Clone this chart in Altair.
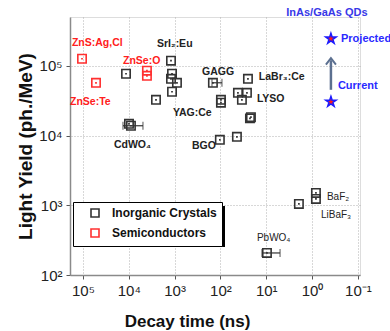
import altair as alt
import pandas as pd

# ---------------- data ----------------
crys_x = [11500, 8980, 9910, 2550, 1200, 1140, 1200, 889, 1140, 146, 97.5, 97.5,
          25.1, 41.5, 26.4, 34, 22.7, 21.6, 103, 43.7, 1.94, 0.824, 0.824, 9.66]
crys_y = [76800, 13800, 14700, 32500, 118000, 76800, 65000, 57000, 42400, 57000, 29500, 32500,
          65000, 40900, 40900, 32500, 17600, 18300, 8670, 9580, 1045, 1500, 1230, 207]
semi_x = [105000, 52000, 4020, 4020]
semi_y = [126000, 57000, 85000, 71800]

err_lo = [13400, 153, 12.4]
err_hi = [4910, 92.7, 5.0]
err_y = [13800, 57000, 207]

qd_x = [0.388, 0.388]
qd_y = [30400, 244000]
qd_lab = ["Current", "Projected"]

arrow_x = [0.388]
arrow_y0 = [45200]
arrow_y1 = [120000]

red_labels = ["ZnS:Ag,Cl", "ZnSe:Te", "ZnSe:O"]
red_lx = [174000, 192000, 13400]
red_ly = [214000, 30400, 118000]

blk_labels = ["SrI₂:Eu", "CdWO₄", "YAG:Ce", "GAGG", "LaBr₃:Ce", "LYSO", "BGO"]
blk_lx = [2430, 21100, 1090, 253, 14.5, 16, 420]
blk_ly = [207000, 7350, 21100, 82000, 69500, 33600, 7110]

small_labels = ["BaF₂", "LiBaF₃", "PbWO₄"]
small_lx = [0.474, 0.641, 16]
small_ly = [1320, 726, 340]

blue_labels = ["Projected", "Current"]
blue_lx = [0.234, 0.273]
blue_ly = [244000, 51600]
head_label = ["InAs/GaAs QDs"]
head_x = [0.474]
head_y = [575000]

x_ticks = [1e5, 1e4, 1e3, 1e2, 1e1, 1e0, 1e-1]
y_ticks = [1e2, 1e3, 1e4, 1e5]
groups = ["Inorganic Crystals", "Semiconductors"]
group_colors = ["#333333", "#ff3030"]

# ---------------- tables ----------------
pts = pd.DataFrame({
    "x": crys_x + semi_x,
    "y": crys_y + semi_y,
    "g": [groups[0]] * len(crys_x) + [groups[1]] * len(semi_x),
    "c": [group_colors[0]] * len(crys_x) + [group_colors[1]] * len(semi_x),
})
err = pd.DataFrame({"lo": err_lo, "hi": err_hi, "y": err_y})
err_ends = pd.DataFrame({"x": err_lo + err_hi, "y": err_y + err_y})
qd = pd.DataFrame({"x": qd_x, "y": qd_y, "lab": qd_lab})
arrow = pd.DataFrame({"x": arrow_x, "y0": arrow_y0, "y1": arrow_y1})
red_df = pd.DataFrame({"x": red_lx, "y": red_ly, "t": red_labels})
blk_df = pd.DataFrame({"x": blk_lx, "y": blk_ly, "t": blk_labels})
sm_df = pd.DataFrame({"x": small_lx, "y": small_ly, "t": small_labels})
blue_df = pd.DataFrame({"x": blue_lx, "y": blue_ly, "t": blue_labels})
head_df = pd.DataFrame({"x": head_x, "y": head_y, "t": head_label})

FONT = "Liberation Sans"

sup = {5: "⁵", 4: "⁴", 3: "³", 2: "²", 1: "¹", 0: "⁰", -1: "⁻¹"}
e = "round(log(datum.value)/LN10)"
expr = "''"
for k, v in sup.items():
    expr = f"{e}=={k} ? '10{v}' : ({expr})"

xscale = alt.Scale(type="log", domain=[0.09, 192000], reverse=True, nice=False)
yscale = alt.Scale(type="log", domain=[100, 500000], nice=False)

xax = alt.Axis(values=x_ticks, labelExpr=expr, title="Decay time (ns)", grid=True,
               gridDash=[1, 2], gridColor="#b0b0b0", domainColor="#8a8a8a", domainWidth=1.5,
               tickColor="#555", tickSize=4, labelFontSize=15, labelFont=FONT,
               labelColor="#222", labelPadding=4, labelFlush=False, labelOverlap=False,
               titleFont=FONT, titleFontSize=17, titleFontWeight="bold", titleColor="#111",
               titleX=117, titleY=46, titleBaseline="middle")
yax = alt.Axis(values=y_ticks, labelExpr=expr, title="Light Yield (ph./MeV)", grid=True,
               gridDash=[1, 2], gridColor="#b0b0b0", domainColor="#8a8a8a", domainWidth=1.5,
               tickColor="#555", tickSize=4, labelFontSize=15, labelFont=FONT,
               labelColor="#222", labelPadding=4, labelFlush=False, labelOverlap=False,
               titleFont=FONT, titleFontSize=19, titleFontWeight="bold", titleColor="#111",
               titleX=-45, titleY=129, titleBaseline="middle", titleAngle=270)

X = alt.X("x:Q", scale=xscale, axis=xax)
Y = alt.Y("y:Q", scale=yscale, axis=yax)
color_scale = alt.Scale(domain=groups, range=group_colors)

squares = alt.Chart(pts).mark_point(shape="square", filled=False, size=70, strokeWidth=1.6,
                                    opacity=1).encode(
    x=X, y=Y,
    color=alt.Color("g:N", scale=color_scale,
                    legend=alt.Legend(title=None, orient="none", legendX=3, legendY=185,
                                      strokeColor="black", fillColor="white", padding=5,
                                      symbolType="square", symbolSize=64,
                                      symbolFillColor="white", symbolOffset=11,
                                      symbolStrokeWidth=1.6, labelFont=FONT,
                                      labelFontSize=12, labelFontWeight="bold",
                                      labelColor="#111", rowPadding=4, labelOffset=11)))
dots = alt.Chart(pts).mark_point(shape="square", filled=True, size=3, opacity=1).encode(
    x="x:Q", y="y:Q", color=alt.Color("c:N", scale=None))

shadow = alt.Chart(pts).mark_rect(color="black").encode(
    x=alt.value(6), x2=alt.value(155), y=alt.value(189), y2=alt.value(230))

err_rule = alt.Chart(err).mark_rule(color="#333", strokeWidth=1.2).encode(
    x="lo:Q", x2="hi:Q", y="y:Q")
err_tick = alt.Chart(err_ends).mark_tick(orient="vertical", size=8, thickness=1.2,
                                         color="#333").encode(x="x:Q", y="y:Q")

star_path = ("M0,-1L0.2245,-0.309L0.951,-0.309L0.3633,0.118L0.5878,0.809L0,0.382"
             "L-0.5878,0.809L-0.3633,0.118L-0.951,-0.309L-0.2245,-0.309Z")
stars = alt.Chart(qd).mark_point(shape=star_path, filled=True, size=120, fill="#ff1a1a",
                                 stroke="#1a1aff", strokeWidth=1.5, opacity=1).encode(
    x="x:Q", y="y:Q")

arrow_line = alt.Chart(arrow).mark_rule(color="#5c7090", strokeWidth=2.5).encode(
    x="x:Q", y="y0:Q", y2="y1:Q")
arrow_head = alt.Chart(arrow).mark_point(shape="M-1,0.9L0,-0.4L1,0.9", filled=False,
                                         size=100, color="#5c7090", strokeWidth=2,
                                         opacity=1).encode(x="x:Q", y="y1:Q")


def txt(df, color, size, weight, align="left"):
    return alt.Chart(df).mark_text(align=align, baseline="middle", font=FONT, fontSize=size,
                                   fontWeight=weight, color=color).encode(
        x="x:Q", y="y:Q", text="t:N")


red_t = txt(red_df, "#ff2020", 10.5, "bold")
blk_t = txt(blk_df, "#222222", 10.5, "bold")
sm_t = txt(sm_df, "#222222", 10, "normal")
blue_t = txt(blue_df, "#2a2aff", 11, "bold")
head_t = txt(head_df, "#3838e8", 11, "bold", align="center")

chart = alt.layer(
    shadow, squares, dots, err_rule, err_tick, arrow_line, arrow_head, stars,
    red_t, blk_t, sm_t, blue_t, head_t
).properties(
    width=290, height=258, autosize="none",
    padding={"left": 70, "top": 17, "right": 30, "bottom": 56},
).configure_view(stroke=None).configure(background="white")

chart.save("out.html", embed_options={"renderer": "svg", "actions": False})
